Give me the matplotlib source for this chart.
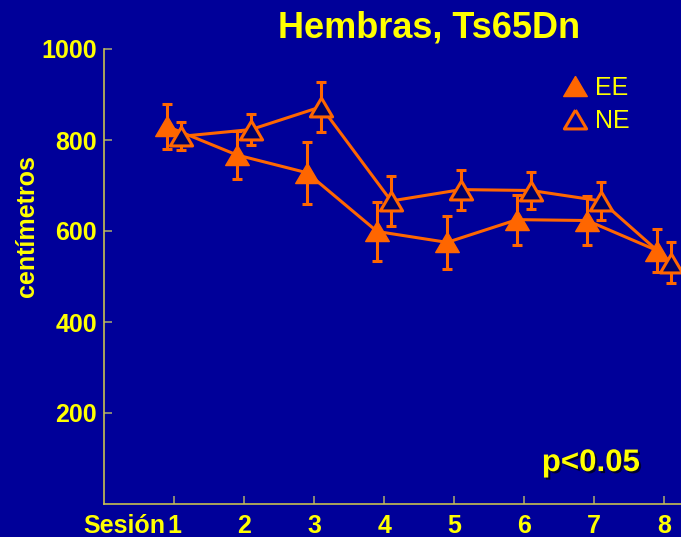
import numpy as np
import matplotlib
matplotlib.use("Agg")
import matplotlib.pyplot as plt
import matplotlib.patheffects as pe
from matplotlib.lines import Line2D

plt.rcParams['font.family'] = ['Liberation Sans', 'DejaVu Sans']

# distance travelled per session (mean +/- SEM)
sesion = [1, 2, 3, 4, 5, 6, 7, 8]
ee_mean = [830, 767, 728, 599, 575, 625, 623, 557]
ee_err = [50, 52, 68, 64, 58, 55, 54, 48]
ne_mean = [808, 823, 873, 666, 691, 689, 666, 530]
ne_err = [31, 34, 55, 55, 44, 40, 41, 45]

bg = '#000099'
orange = '#ff6600'
yellow = '#ffff00'
ne_fill = '#000066'

# slightly flattened triangle marker
tri = [(0, 0.85), (-1, -0.85), (1, -0.85), (0, 0.85)]

fig = plt.figure(figsize=(6.81, 5.37), dpi=100, facecolor=bg)
ax = fig.add_axes([104 / 681, 33 / 537, 1 - 104 / 681, 455 / 537])
ax.set_facecolor(bg)

x = np.array(sesion)
off = 0.1

ax.plot(x - off, ee_mean, color=orange, lw=2.2, zorder=2)
ax.plot(x + off, ne_mean, color=orange, lw=2.2, zorder=2)
ax.errorbar(x - off, ee_mean, yerr=ee_err, fmt='none', ecolor=orange,
            elinewidth=2.2, capsize=3.5, capthick=2.2, zorder=3)
ax.errorbar(x + off, ne_mean, yerr=ne_err, fmt='none', ecolor=orange,
            elinewidth=2.2, capsize=3.5, capthick=2.2, zorder=4)
ax.plot(x - off, ee_mean, ls='none', marker=tri, ms=17, mfc=orange,
        mec=orange, mew=1, zorder=5)
ax.plot(x + off, ne_mean, ls='none', marker=tri, ms=16, mfc=ne_fill,
        mec=orange, mew=2.2, zorder=6)

ax.set_xlim(0, 8.24)
ax.set_ylim(0, 1000)
ax.set_xticks(sesion)
ax.set_yticks([200, 400, 600, 800, 1000])

for side in ['top', 'right']:
    ax.spines[side].set_visible(False)
for side in ['left', 'bottom']:
    ax.spines[side].set_color('#c8c050')
    ax.spines[side].set_linewidth(1.2)

ax.tick_params(direction='in', length=6, width=1.2, color='#a0a070',
               labelcolor=yellow, labelsize=18)
ax.tick_params(axis='x', pad=7)
ax.tick_params(axis='y', pad=5)
for lab in ax.get_xticklabels() + ax.get_yticklabels():
    lab.set_fontweight('bold')

ax.set_ylabel('centímetros', color=yellow, fontsize=18, fontweight='bold')
ax.yaxis.set_label_coords(-0.112, 0.611)

ax.text(0.88, -0.0213, 'Sesión', transform=ax.get_xaxis_transform(),
        ha='right', va='top', color=yellow, fontsize=18, fontweight='bold')

fig.text(429 / 681, 1 - 28 / 537, 'Hembras, Ts65Dn', ha='center',
         va='center', color=yellow, fontsize=26, fontweight='bold')

ax.text(0.929, 0.09, 'p<0.05', transform=ax.transAxes, ha='right',
        va='center', color=yellow, fontsize=22.5, fontweight='bold',
        path_effects=[pe.withSimplePatchShadow(offset=(1.5, -1.5),
                                               shadow_rgbFace='#000033',
                                               alpha=1)])

handles = [
    Line2D([], [], ls='none', marker=tri, ms=17, mfc=orange, mec=orange),
    Line2D([], [], ls='none', marker=tri, ms=16, mfc=bg, mec=orange,
           mew=2.2),
]
ax.legend(handles, ['EE', 'NE'], loc='upper left',
          bbox_to_anchor=(0.756, 0.99), frameon=False, fontsize=18,
          labelcolor=yellow, handlelength=1.0, handletextpad=0.3,
          labelspacing=0.35)

fig.savefig('out.png', dpi=100, facecolor=bg)
